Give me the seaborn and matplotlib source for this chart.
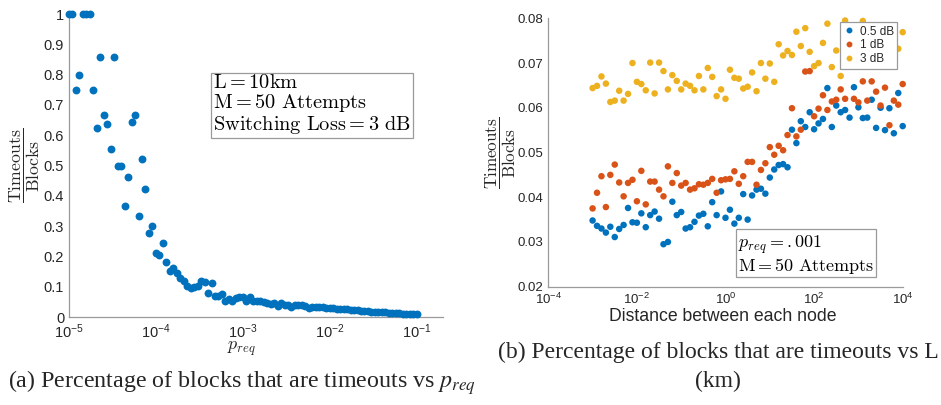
import numpy as np
import pandas as pd
import matplotlib
matplotlib.use("Agg")
import matplotlib.pyplot as plt
import seaborn as sns
from matplotlib.ticker import LogLocator, FixedLocator, NullFormatter
from matplotlib.lines import Line2D

# ---------------- data: panel (a) ----------------
p_req = np.logspace(-5, -1, 101)
timeout_ratio = [
    1.0, 1.0, 0.75, 0.8, 1.0, 1.0, 1.0, 0.75, 0.625, 0.857,
    0.667, 0.636, 0.555, 0.857, 0.5, 0.5, 0.368, 0.462, 0.643, 0.667,
    0.333, 0.523, 0.423, 0.278, 0.302, 0.211, 0.204, 0.244, 0.182, 0.152,
    0.164, 0.147, 0.131, 0.120, 0.103, 0.097, 0.099, 0.103, 0.120, 0.118,
    0.079, 0.112, 0.070, 0.070, 0.076, 0.054, 0.060, 0.054, 0.063, 0.068,
    0.066, 0.055, 0.066, 0.054, 0.054, 0.053, 0.050, 0.047, 0.043, 0.046,
    0.038, 0.047, 0.041, 0.042, 0.035, 0.042, 0.040, 0.040, 0.038, 0.032,
    0.034, 0.034, 0.033, 0.034, 0.030, 0.030, 0.031, 0.029, 0.028, 0.027,
    0.026, 0.025, 0.024, 0.024, 0.022, 0.021, 0.021, 0.019, 0.018, 0.018,
    0.017, 0.016, 0.015, 0.014, 0.014, 0.013, 0.012, 0.012, 0.011, 0.011,
    0.011,
]

# ---------------- data: panel (b) ----------------
distance = np.logspace(-3, 4, 71)
loss_labels = ["0.5 dB", "1 dB", "3 dB"]
ratio_05dB = [
    0.0348, 0.0336, 0.0330, 0.0321, 0.0334, 0.0311, 0.0329, 0.0338, 0.0376, 0.0344,
    0.0343, 0.0364, 0.0333, 0.0360, 0.0368, 0.0352, 0.0295, 0.0300, 0.0390, 0.0360,
    0.0367, 0.0330, 0.0333, 0.0345, 0.0359, 0.0363, 0.0335, 0.0389, 0.0360, 0.0413,
    0.0354, 0.0372, 0.0341, 0.0354, 0.0407, 0.0350, 0.0404, 0.0417, 0.0419, 0.0408,
    0.0444, 0.0462, 0.0472, 0.0474, 0.0467, 0.0551, 0.0521, 0.0570, 0.0557, 0.0590,
    0.0552, 0.0565, 0.0575, 0.0644, 0.0557, 0.0605, 0.0590, 0.0595, 0.0578, 0.0646,
    0.0601, 0.0577, 0.0578, 0.0618, 0.0555, 0.0600, 0.0550, 0.0599, 0.0543, 0.0633,
    0.0559,
]
ratio_1dB = [
    0.0375, 0.0410, 0.0447, 0.0378, 0.0450, 0.0473, 0.0433, 0.0402, 0.0432, 0.0439,
    0.0391, 0.0459, 0.0384, 0.0435, 0.0435, 0.0417, 0.0402, 0.0469, 0.0432, 0.0454,
    0.0426, 0.0432, 0.0417, 0.0420, 0.0429, 0.0428, 0.0432, 0.0441, 0.0410, 0.0438,
    0.0440, 0.0441, 0.0458, 0.0430, 0.0447, 0.0479, 0.0479, 0.0428, 0.0461, 0.0476,
    0.0512, 0.0495, 0.0515, 0.0505, 0.0539, 0.0599, 0.0536, 0.0551, 0.0681, 0.0682,
    0.0581, 0.0598, 0.0628, 0.0595, 0.0614, 0.0618, 0.0641, 0.0620, 0.0695, 0.0620,
    0.0612, 0.0659, 0.0616, 0.0659, 0.0636, 0.0605, 0.0645, 0.0561, 0.0616, 0.0607,
    0.0653,
]
ratio_3dB = [
    0.0644, 0.0649, 0.0670, 0.0654, 0.0613, 0.0616, 0.0638, 0.0616, 0.0631, 0.0700,
    0.0658, 0.0653, 0.0639, 0.0701, 0.0632, 0.0701, 0.0682, 0.0641, 0.0673, 0.0660,
    0.0641, 0.0654, 0.0649, 0.0639, 0.0671, 0.0641, 0.0689, 0.0669, 0.0626, 0.0641,
    0.0620, 0.0685, 0.0667, 0.0665, 0.0643, 0.0647, 0.0679, 0.0637, 0.0700, 0.0665,
    0.0699, 0.0658, 0.0742, 0.0717, 0.0727, 0.0718, 0.0770, 0.0738, 0.0778, 0.0725,
    0.0693, 0.0700, 0.0745, 0.0788, 0.0691, 0.0728, 0.0671, 0.0795, 0.0760, 0.0750,
    0.0770, 0.0794, 0.0755, 0.0765, 0.0748, 0.0772, 0.0758, 0.0745, 0.0762, 0.0732,
    0.0769,
]

colors = {"0.5 dB": "#0072BD", "1 dB": "#D95319", "3 dB": "#EDB120"}

sns.set_style("white")
plt.rcParams["font.family"] = ["Liberation Sans", "DejaVu Sans"]
plt.rcParams["mathtext.fontset"] = "cm"

AX_COL = "#9a9a9a"
TXT_COL = "#262626"

fig = plt.figure(figsize=(9.41, 4.05), dpi=100)
W, H = 941.0, 405.0
ax1 = fig.add_axes([69 / W, 1 - 317.3 / H, 373.7 / W, 303.3 / H])
ax2 = fig.add_axes([548.3 / W, 1 - 286.7 / H, 354.4 / W, 268.4 / H])


def style_axes(ax, fs):
    for s in ["top", "right"]:
        ax.spines[s].set_visible(False)
    for s in ["left", "bottom"]:
        ax.spines[s].set_color(AX_COL)
        ax.spines[s].set_linewidth(0.9)
    ax.tick_params(axis="both", which="both", direction="in", colors=AX_COL,
                   labelcolor=TXT_COL, labelsize=fs)
    ax.tick_params(axis="both", which="major", length=4)
    ax.tick_params(axis="both", which="minor", length=2.5)
    ax.set_facecolor("none")


# ---------------- panel (a) ----------------
df_a = pd.DataFrame({"p_req": p_req, "ratio": timeout_ratio})
ax1.set_xscale("log")
sns.scatterplot(data=df_a, x="p_req", y="ratio", ax=ax1, color="#0072BD",
                s=32, linewidth=0, clip_on=False, zorder=3)
ax1.set_xlim(1e-5, 10 ** -0.7)
ax1.set_ylim(0, 1)
ax1.set_yticks(np.arange(0, 1.01, 0.1))
ax1.set_yticklabels(["0"] + [f"{v:.1f}" for v in np.arange(0.1, 0.95, 0.1)] + ["1"])
ax1.xaxis.set_major_locator(FixedLocator([1e-5, 1e-4, 1e-3, 1e-2, 1e-1]))
ax1.xaxis.set_minor_locator(LogLocator(base=10, subs=np.arange(2, 10), numticks=20))
ax1.xaxis.set_minor_formatter(NullFormatter())
style_axes(ax1, 10.5)
ax1.set_xlabel(r"$p_{req}$", fontsize=13, math_fontfamily="cm", color=TXT_COL)
ax1.xaxis.set_label_coords(0.463, -0.075)
ax1.set_ylabel(r"$\dfrac{\mathrm{Timeouts}}{\mathrm{Blocks}}$", fontsize=12.8,
               math_fontfamily="cm", color=TXT_COL)
ax1.yaxis.set_label_coords(-0.072, 0.5)

ax1.text((213 - 69) / 373.7, (317.3 - 73) / 303.3,
         "$\\mathrm{L} = 10\\mathrm{km}$\n"
         "$\\mathrm{M} = 50\\ \\mathrm{Attempts}$\n"
         "$\\mathrm{Switching\\ Loss} = 3\\ \\mathrm{dB}$",
         transform=ax1.transAxes, ha="left", va="top", fontsize=14.7,
         math_fontfamily="cm", color="black", linespacing=1.0,
         bbox=dict(boxstyle="square,pad=0.12", fc="white", ec=AX_COL, lw=0.9))

# ---------------- panel (b) ----------------
df_b = pd.DataFrame({
    "distance": np.concatenate([distance] * 3),
    "ratio": np.concatenate([ratio_05dB, ratio_1dB, ratio_3dB]),
    "loss": np.repeat(loss_labels, len(distance)),
})
ax2.set_xscale("log")
sns.scatterplot(data=df_b, x="distance", y="ratio", hue="loss", hue_order=loss_labels,
                palette=colors, ax=ax2, s=22, linewidth=0, legend=False,
                clip_on=False, zorder=3)
ax2.set_xlim(1e-4, 1e4)
ax2.set_ylim(0.02, 0.08)
ax2.set_yticks(np.arange(0.02, 0.0801, 0.01))
ax2.set_yticklabels([f"{v:.2f}" for v in np.arange(0.02, 0.0801, 0.01)])
ax2.xaxis.set_major_locator(FixedLocator([1e-4, 1e-2, 1e0, 1e2, 1e4]))
ax2.xaxis.set_minor_locator(LogLocator(base=10, subs=np.arange(1, 10), numticks=30))
ax2.xaxis.set_minor_formatter(NullFormatter())
style_axes(ax2, 9.5)
ax2.set_xlabel("Distance between each node", fontsize=12.7, color=TXT_COL)
ax2.xaxis.set_label_coords(0.492, -0.08)
ax2.set_ylabel(r"$\dfrac{\mathrm{Timeouts}}{\mathrm{Blocks}}$", fontsize=12.3,
               math_fontfamily="cm", color=TXT_COL)
ax2.yaxis.set_label_coords(-0.0855, 0.5)

handles = [Line2D([], [], marker="o", ls="", color=colors[k], markersize=3.2) for k in loss_labels]
leg = ax2.legend(handles, loss_labels, loc="upper right", bbox_to_anchor=(0.985, 0.986),
                 borderaxespad=0, fontsize=8.5, frameon=True, fancybox=False,
                 handlelength=1.0, handletextpad=0.4, borderpad=0.3, labelspacing=0.15)
leg.get_frame().set_edgecolor(AX_COL)
leg.get_frame().set_linewidth(0.9)
leg.get_frame().set_alpha(1)
leg.set_zorder(10)
for t in leg.get_texts():
    t.set_color(TXT_COL)

ax2.text((738 - 548.3) / 354.4, (286.7 - 234.0) / 268.4,
         "$p_{req} = \\mathrm{.001}$\n$\\mathrm{M} = 50\\ \\mathrm{Attempts}$",
         transform=ax2.transAxes, ha="left", va="top", fontsize=13,
         math_fontfamily="cm", color="black", linespacing=0.95,
         bbox=dict(boxstyle="square,pad=0.1", fc="white", ec=AX_COL, lw=0.9))

# ---------------- captions ----------------
cap_font = ["Liberation Serif", "DejaVu Serif"]
fig.text(242 / W, 1 - 383 / H, "(a) Percentage of blocks that are timeouts vs $p_{req}$",
         ha="center", va="center", fontsize=17.3, family=cap_font, math_fontfamily="stix")
fig.text(718 / W, 1 - 352 / H, "(b) Percentage of blocks that are timeouts vs L",
         ha="center", va="center", fontsize=17, family=cap_font)
fig.text(718 / W, 1 - 381 / H, "(km)",
         ha="center", va="center", fontsize=17, family=cap_font)

fig.savefig("out.png", dpi=100)
